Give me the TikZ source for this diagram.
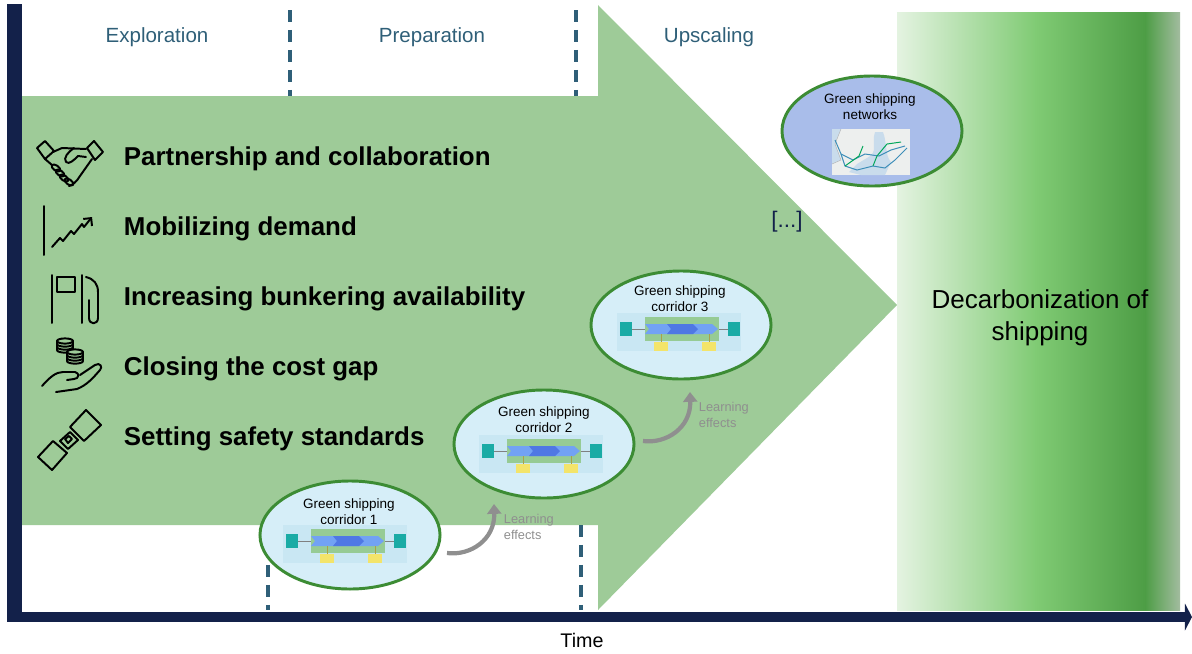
\documentclass[tikz,border=0pt]{standalone}
\usepackage{fontspec}
\setmainfont{Liberation Sans}
\usetikzlibrary{arrows.meta,shapes.geometric}

\definecolor{navy}{HTML}{13214A}
\definecolor{arrowgreen}{HTML}{9ECB98}
\definecolor{phasecol}{HTML}{2F5F78}
\definecolor{rimgreen}{HTML}{3C8C34}
\definecolor{corrfill}{HTML}{D6EEF8}
\definecolor{netfill}{HTML}{A9BDEA}
\definecolor{learngray}{HTML}{8F8F8F}
\definecolor{mapback}{HTML}{C9E7F3}
\definecolor{mapgreen}{HTML}{96CB94}
\definecolor{mapteal}{HTML}{1AABA5}
\definecolor{bandblue}{HTML}{72A2F4}
\definecolor{banddark}{HTML}{4F78E4}
\definecolor{mapyellow}{HTML}{F3E46A}
\definecolor{maplandc}{HTML}{EDEFEE}
\definecolor{mapsea}{HTML}{C9DCEC}
\definecolor{maproute}{HTML}{3C8DB8}
\definecolor{goalpale}{HTML}{E4F3E1}
\definecolor{goalmid}{HTML}{80CB74}
\definecolor{goaldeep}{HTML}{4D9D45}
\definecolor{goalfade}{HTML}{A2BC9F}

\tikzset{
  corrmap/.pic={
    \fill[mapback] (-62,-19) rectangle (62,19);
    \fill[mapgreen] (-34,-15) rectangle (40,9);
    \fill[mapteal] (-59,-10) rectangle (-47,4);
    \fill[mapteal] (49,-10) rectangle (61,4);
    \draw[gray,line width=0.3pt] (-47,-3) -- (-34,-3) (40,-3) -- (49,-3);
    \fill[bandblue] (-34,-8) -- (33,-8) -- (39,-3) -- (33,2) -- (-34,2) -- (-30,-3) -- cycle;
    \fill[banddark] (-12,-8) -- (14,-8) -- (19,-3) -- (14,2) -- (-12,2) -- (-8,-3) -- cycle;
    \draw[mapyellow!70!black,line width=0.3pt] (-18,2) -- (-18,10) (30,2) -- (30,10);
    \fill[mapyellow] (-25,10) rectangle (-11,19);
    \fill[mapyellow] (23,10) rectangle (37,19);
  },
  netmap/.pic={
    \fill[maplandc] (-39,-23) rectangle (39,23);
    \fill[mapsea] (-39,-23) -- (-30,-23) -- (-36,-8) -- (-30,8) -- (-39,12) -- cycle;
    \fill[mapsea] (4,-20) .. controls (0,-8) and (8,0) .. (-4,6) -- (-14,12) -- (-22,20) -- (-10,23) -- (14,23) -- (20,10) .. controls (14,4) and (16,-10) .. (12,-20) -- cycle;
    \draw[gray!60,line width=0.3pt] (-30,-23) -- (-36,-8) -- (-30,8) -- (-39,12);
    \draw[maproute,line width=0.7pt] (-36,-12) -- (-30,2) -- (-26,14) -- (-14,18) -- (2,14) -- (14,16) -- (24,8) -- (36,-4);
    \draw[maproute,line width=0.7pt] (-30,2) -- (-18,8) -- (-6,2) -- (8,4) -- (20,-2) -- (34,-6);
    \draw[teal!70!green,line width=0.7pt] (-26,14) -- (-12,4) -- (-8,-6) (2,14) -- (6,4) -- (16,-8) -- (30,-10);
  }
}

\begin{document}
\begin{tikzpicture}[x=0.025cm,y=-0.025cm,
    phase/.style={text=phasecol,font=\fontsize{14.6}{17}\selectfont},
    item/.style={anchor=west,font=\bfseries\fontsize{18.4}{22}\selectfont},
    icon/.style={draw=black,line width=1.4pt,line join=round,line cap=round},
    sep/.style={draw=phasecol,line width=2.3pt,dash pattern=on 8.5pt off 5.7pt},
    bubble/.style={ellipse,draw=rimgreen,line width=2.1pt,minimum width=4.5cm,minimum height=2.7cm,inner sep=0pt},
    title/.style={align=center,font=\fontsize{9.6}{11.5}\selectfont},
    learn/.style={draw=learngray,line width=3pt,-{Triangle[length=7pt,width=10pt]}},
    learntext/.style={anchor=west,align=left,text=learngray,font=\fontsize{9.1}{11}\selectfont}]
    \useasboundingbox (0,0) rectangle (1192,653);
    % big arrow and the end state
    \fill[arrowgreen] (22,96) -- (598,96) -- (598,5) -- (897,305) -- (598,610) -- (598,525) -- (22,525) -- cycle;
    \shade[left color=goalpale,right color=goalmid] (897,12) rectangle (1036,610);
    \shade[left color=goalmid,right color=goaldeep] (1035,12) rectangle (1146,610);
    \shade[left color=goaldeep,right color=goalfade] (1145,12) rectangle (1180,610);
    \node[align=center,font=\fontsize{18.5}{22.5}\selectfont] (decarb) at (1040,318) {Decarbonization of\\shipping};
    % phases
    \draw[sep] (290,10) -- (290,96);
    \draw[sep] (576,10) -- (576,96);
    \draw[sep] (268,525) -- (268,610);
    \draw[sep] (581,525) -- (581,610);
    \node[phase] (explor) at (157,37) {Exploration};
    \node[phase] (prep) at (432,37) {Preparation};
    \node[phase] (upscale) at (709,37) {Upscaling};
    % levers
    \node[item] (partner) at (119,159) {Partnership and collaboration};
    \node[item] (demand) at (119,229) {Mobilizing demand};
    \node[item] (bunker) at (119,299) {Increasing bunkering availability};
    \node[item] (costgap) at (119,369) {Closing the cost gap};
    \node[item] (safety) at (119,439) {Setting safety standards};
    % handshake
    \draw[icon] (37,148) -- (45,141) -- (54,151) -- (45,159) -- cycle;
    \draw[icon] (87,148) -- (94,141) -- (103,152) -- (95,160) -- cycle;
    \draw[icon] (53,152) -- (62,148) -- (86,149);
    \draw[icon] (74,148) .. controls (68,152) and (63,158) .. (66,162) .. controls (69,165) and (74,160) .. (78,156) -- (86,157);
    \draw[icon] (92,159) -- (80,176) .. controls (77,181) and (73,185) .. (69,186);
    \draw[icon] (45,159) -- (52,165);
    \foreach \fx/\fy in {56/168,60/173,64/178,69/182}
        \draw[icon,rotate around={-35:(\fx,\fy)}] (\fx,\fy) ellipse (5 and 2.6);
    % chart
    \draw[icon] (44,206) -- (44,255);
    \draw[icon,-{Straight Barb[length=4pt]}] (52,247) -- (60,238) -- (63,241) -- (71,231) -- (74,234) -- (82,224) -- (84,227) -- (92,217);
    % fuel pump
    \draw[icon] (52,323) -- (52,275) (82,275) -- (82,323);
    \draw[icon] (57,277) rectangle (75,292);
    \draw[icon] (86,277) .. controls (94,279) and (98,284) .. (98,292) -- (98,318) .. controls (98,325) and (89,325) .. (89,318) -- (89,300);
    % coins in a hand
    \foreach \cx/\cy in {65/341,75/352}{
        \draw[icon,fill=arrowgreen] (\cx-8,\cy) -- (\cx-8,\cy+9) .. controls (\cx-8,\cy+12.5) and (\cx+8,\cy+12.5) .. (\cx+8,\cy+9) -- (\cx+8,\cy) -- cycle;
        \draw[icon,fill=arrowgreen] (\cx,\cy) ellipse (8 and 2.6);
        \foreach \k in {3,6}
            \draw[icon] (\cx-8,\cy+\k) .. controls (\cx-8,\cy+\k+3.5) and (\cx+8,\cy+\k+3.5) .. (\cx+8,\cy+\k);
    }
    \draw[icon] (42,386) .. controls (50,377) and (56,372) .. (63,372) -- (75,372) .. controls (80,373) and (79,379) .. (74,379) -- (67,380);
    \draw[icon] (80,375) -- (95,365) .. controls (100,362) and (103,367) .. (100,370) .. controls (93,378) and (87,385) .. (77,389) -- (56,392);
    % seat belt
    \draw[icon] (38,457) -- (53,441) -- (67,453) -- (52,470) -- cycle;
    \draw[icon] (60,441) -- (70,432) -- (78,440) -- (68,449) -- cycle;
    \draw[icon] (65,439) -- (69,436) -- (72,439) -- (68,443) -- cycle;
    \draw[icon] (70,427) -- (86,410) -- (101,425) -- (84,441) -- cycle;
    % corridors and network
    \node[bubble,fill=corrfill] (corr1) at (350,535) {};
    \node[bubble,fill=corrfill] (corr2) at (544,444) {};
    \node[bubble,fill=corrfill] (corr3) at (681,325) {};
    \node[bubble,fill=netfill,minimum height=2.75cm] (net) at (872,131) {};
    \node[title] (corr1t) at (349,512) {Green shipping\\corridor 1};
    \node[title] (corr2t) at (544,420) {Green shipping\\corridor 2};
    \node[title] (corr3t) at (680,299) {Green shipping\\corridor 3};
    \node[title] (nett) at (870,107) {Green shipping\\networks};
    \pic at (345,544) {corrmap};
    \pic at (541,454) {corrmap};
    \pic at (679,332) {corrmap};
    \pic at (871,152) {netmap};
    \node[text=navy,font=\fontsize{16}{19}\selectfont] (etc) at (787,222) {[...]};
    % learning effects
    \coordinate (learn1s) at (447,553);
    \coordinate (learn1e) at (494,504);
    \coordinate (learn2s) at (643,441);
    \coordinate (learn2e) at (690,392);
    \draw[learn] (learn1s) .. controls (470,556) and (495,540) .. (learn1e);
    \draw[learn] (learn2s) .. controls (666,444) and (691,428) .. (learn2e);
    \node[learntext] (learn1) at (499,527) {Learning\\effects};
    \node[learntext] (learn2) at (694,415) {Learning\\effects};
    % time axes
    \draw[navy,line width=10.7pt] (14.5,4) -- (14.5,622);
    \draw[navy,line width=7.8pt,-{Triangle[length=5pt,width=19pt]}] (7,617) -- (1192,617);
    \node[font=\fontsize{14}{17}\selectfont] (time) at (582,640) {Time};
\end{tikzpicture}
\end{document}
